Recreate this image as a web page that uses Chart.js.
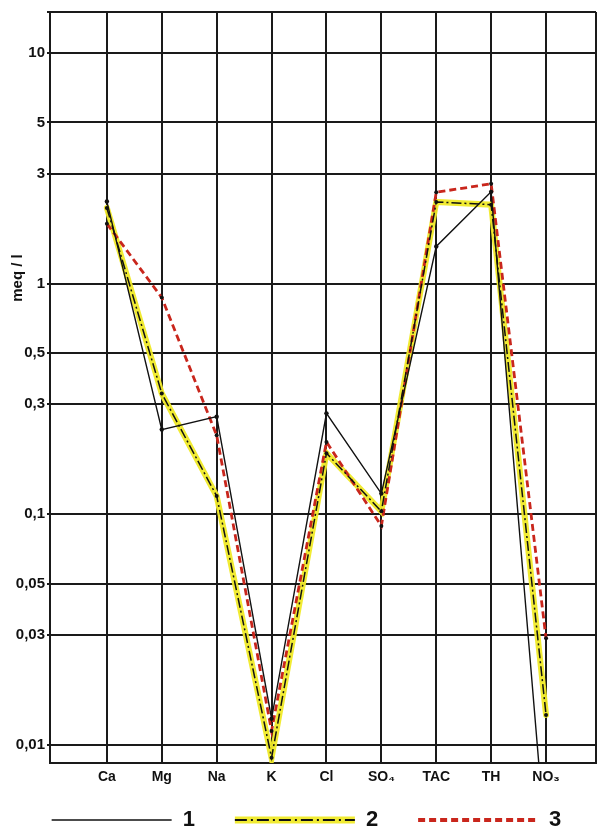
<!DOCTYPE html>
<html>
<head>
<meta charset="utf-8">
<script src="https://cdn.jsdelivr.net/npm/chart.js@4.4.1/dist/chart.umd.min.js"></script>
<style>
  html, body { margin: 0; padding: 0; background: #ffffff; }
  #wrap { width: 600px; height: 829px; }
</style>
</head>
<body>
<div id="wrap"><canvas id="c" width="600" height="829"></canvas></div>
<script>
// ---- data ----
const categories = ['Ca', 'Mg', 'Na', 'K', 'Cl', 'SO₄', 'TAC', 'TH', 'NO₃'];
const series1 = [2.27, 0.233, 0.265, 0.013, 0.274, 0.123, 1.45, 2.5, 0.0035];
const series2 = [2.13, 0.334, 0.12, 0.0088, 0.184, 0.103, 2.26, 2.2, 0.0135];
const series3 = [1.82, 0.87, 0.22, 0.0115, 0.206, 0.089, 2.49, 2.71, 0.029];
const yTickValues = [0.01, 0.03, 0.05, 0.1, 0.3, 0.5, 1, 3, 5, 10];
const yTickLabels = ['0,01', '0,03', '0,05', '0,1', '0,3', '0,5', '1', '3', '5', '10'];
const seriesLabels = ['1', '2', '3'];
const yTitle = 'meq / l';

const X_MIN = -1.036, X_MAX = 8.91;
const Y_MIN = 0.00835, Y_MAX = 15.06;

const toXY = arr => arr.map((v, i) => ({ x: i, y: v }));

Chart.defaults.font.family = "'Liberation Sans', Arial, sans-serif";
Chart.defaults.color = '#111';

const GRID = '#1a1a1a';
const LEGEND_LINE = 120;

const yTitlePlugin = {
  id: 'yTitle',
  afterDraw(chart) {
    const ctx = chart.ctx;
    ctx.save();
    ctx.translate(18, 278);
    ctx.rotate(-Math.PI / 2);
    ctx.font = "bold 15px 'Liberation Sans', Arial, sans-serif";
    ctx.fillStyle = '#111';
    ctx.textAlign = 'center';
    ctx.textBaseline = 'middle';
    ctx.fillText(yTitle, 0, 0);
    ctx.restore();
  }
};

// nudge the legend row so that it starts under the left border
const legendShift = {
  id: 'legendShift',
  afterLayout(chart) {
    if (chart.legend) { chart.legend.left += 8; chart.legend.right += 8; }
  }
};

// black dash-dot line over the yellow highlight of legend item 2
const legendOverlay = {
  id: 'legendOverlay',
  afterDraw(chart) {
    const lg = chart.legend;
    if (!lg || !lg.legendHitBoxes || !lg.legendItems) return;
    const idx = lg.legendItems.findIndex(it => it.datasetIndex === 1);
    if (idx < 0) return;
    const hb = lg.legendHitBoxes[idx];
    const ctx = chart.ctx;
    ctx.save();
    ctx.strokeStyle = '#111';
    ctx.lineWidth = 1.8;
    ctx.setLineDash([12, 4, 2, 4]);
    ctx.beginPath();
    ctx.moveTo(hb.left, hb.top + 11);
    ctx.lineTo(hb.left + LEGEND_LINE, hb.top + 11);
    ctx.stroke();
    ctx.restore();
  }
};

new Chart(document.getElementById('c'), {
  type: 'line',
  data: {
    datasets: [
      { label: seriesLabels[0], data: toXY(series1), borderColor: '#111', borderWidth: 1.4,
        pointRadius: 2.2, pointBackgroundColor: '#111', pointBorderWidth: 0, order: 1 },
      { label: seriesLabels[1], data: toXY(series2), borderColor: 'rgba(240,234,40,0.95)', borderWidth: 6,
        pointRadius: 0, order: 5, borderCapStyle: 'round' },
      { label: seriesLabels[1], data: toXY(series2), borderColor: '#111', borderWidth: 1.5,
        borderDash: [10, 3, 2, 3], pointRadius: 2, pointBackgroundColor: '#111', pointBorderWidth: 0, order: 2 },
      { label: seriesLabels[2], data: toXY(series3), borderColor: '#c9261c', borderWidth: 2.8,
        borderDash: [7, 4], pointRadius: 2, pointBackgroundColor: '#111', pointBorderWidth: 0, order: 3 }
    ]
  },
  options: {
    responsive: false,
    animation: false,
    devicePixelRatio: 1,
    layout: { padding: { left: 0, right: 3, top: 12, bottom: 0 } },
    elements: { line: { tension: 0 } },
    scales: {
      x: {
        type: 'linear',
        min: X_MIN, max: X_MAX,
        bounds: 'data',
        afterBuildTicks: s => { s.ticks = [X_MIN, ...categories.map((c, i) => i), X_MAX].map(v => ({ value: v })); },
        afterFit: s => { s.height = 6; },
        grid: { color: GRID, lineWidth: 2, drawTicks: false },
        border: { display: true, color: GRID, width: 2 },
        ticks: {
          mirror: true,
          padding: -23,
          autoSkip: false,
          maxRotation: 0,
          font: { size: 14, weight: 'bold' },
          callback: v => (Number.isInteger(v) && v >= 0 && v < categories.length) ? categories[v] : ''
        }
      },
      y: {
        type: 'logarithmic',
        min: Y_MIN, max: Y_MAX,
        bounds: 'data',
        afterBuildTicks: s => { s.ticks = [...yTickValues, Y_MAX].map(v => ({ value: v })); },
        afterFit: s => { s.width = 50; },
        grid: { color: GRID, lineWidth: 2, drawTicks: true, tickLength: 3 },
        border: { display: true, color: GRID, width: 2 },
        ticks: {
          padding: 2,
          autoSkip: false,
          font: { size: 15, weight: 'bold' },
          callback: v => {
            const i = yTickValues.findIndex(t => Math.abs(t - v) < t * 1e-6);
            return i >= 0 ? yTickLabels[i] : '';
          }
        }
      }
    },
    plugins: {
      tooltip: { enabled: false },
      legend: {
        position: 'bottom',
        align: 'center',
        maxHeight: 60,
        labels: {
          usePointStyle: true,
          pointStyle: 'line',
          pointStyleWidth: LEGEND_LINE,
          padding: 40,
          color: '#111',
          font: { size: 22, weight: 'bold' },
          generateLabels: chart => chart.data.datasets.map((ds, i) => ({
            text: ds.label,
            datasetIndex: i,
            fillStyle: ds.borderColor,
            strokeStyle: ds.borderColor,
            lineWidth: ds.datasetIndex === 1 ? 7 : (i === 1 ? 7 : (i === 3 ? 4 : 1.6)),
            lineDash: ds.borderDash || [],
            lineCap: 'butt',
            pointStyle: 'line',
            hidden: false,
            fontColor: '#111'
          })),
          filter: item => item.datasetIndex !== 2
        }
      }
    }
  },
  plugins: [yTitlePlugin, legendShift, legendOverlay]
});
</script>
</body>
</html>
